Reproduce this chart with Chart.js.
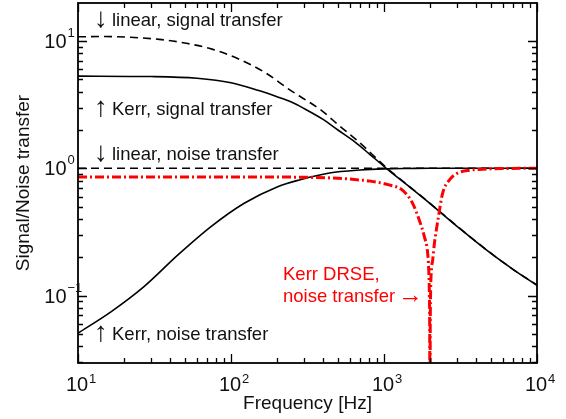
<!DOCTYPE html>
<html lang="en">
<head>
    <meta charset="UTF-8">
    <title>Signal/Noise transfer</title>
    <script src="https://cdn.jsdelivr.net/npm/chart.js"></script>
    <style>
        html, body {
            margin: 0;
            padding: 0;
            background-color: #ffffff;
        }

        .chart-container {
            position: relative;
            width: 566px;
            height: 419px;
        }
    </style>
</head>
<body>
    <div class="chart-container">
        <canvas id="transfer-chart" width="566" height="419"></canvas>
    </div>

    <script>
        // Values (frequency in Hz, transfer magnitude)
        const linearSignalFreq = [10, 15, 22, 34, 51, 76, 113, 169, 241, 280, 390, 512, 658, 1050, 1465, 2000, 3100, 5000, 7000, 10000];
        const linearSignal = [10.8, 10.85, 10.7, 10.3, 9.6, 8.6, 7.2, 5.6, 4.15, 3.7, 2.85, 2.15, 1.68, 1.0, 0.72, 0.53, 0.34, 0.215, 0.16, 0.121];

        const kerrSignalFreq = [10, 30, 60, 100, 150, 200, 250, 300, 400, 500, 650, 800, 1050, 1465, 2000, 3100, 5000, 7000, 10000];
        const kerrSignal = [5.3, 5.26, 5.1, 4.7, 4.1, 3.65, 3.3, 2.95, 2.42, 2.0, 1.6, 1.3, 0.985, 0.715, 0.528, 0.339, 0.214, 0.16, 0.12];

        const linearNoiseFreq = [10, 100, 1000, 10000];
        const linearNoise = [1.0, 1.0, 1.0, 1.0];

        const kerrNoiseFreq = [10, 16.5, 27, 45, 74, 122, 202, 280, 440, 700, 1000, 1500, 2000, 5000, 10000];
        const kerrNoise = [0.0506, 0.0748, 0.1175, 0.2085, 0.348, 0.531, 0.717, 0.81, 0.918, 0.97, 0.99, 0.997, 1.0, 1.0, 1.0];

        const drseFreq = [10, 100, 300, 500, 690, 800, 1080, 1325, 1538, 1702, 1836, 1929, 1960, 1980, 1990, 1997, 2005, 2015, 2035, 2080, 2138, 2250, 2416, 2680, 3016, 3500, 4200, 6000, 10000];
        const drseNoise = [0.855, 0.855, 0.85, 0.835, 0.81, 0.795, 0.74, 0.67, 0.53, 0.39, 0.29, 0.215, 0.16, 0.1, 0.05, 0.005, 0.05, 0.1, 0.15, 0.19, 0.26, 0.39, 0.636, 0.81, 0.913, 0.96, 0.98, 0.995, 1.0];

        // Axis ticks
        const xMajorTicks = [10, 100, 1000, 10000];
        const xTickExponents = ['1', '2', '3', '4'];
        const yMajorTicks = [0.1, 1, 10];
        const yTickExponents = ['\u22121', '0', '1'];
        const minorFactors = [2, 3, 4, 5, 6, 7, 8, 9];

        // Curve labels; arrows are drawn in a larger size like the reference
        const annotations = [
            { arrow: '\u2193', text: 'linear, signal transfer', y: 26, color: '#111111' },
            { arrow: '\u2191', text: 'Kerr, signal transfer', y: 115, color: '#111111' },
            { arrow: '\u2193', text: 'linear, noise transfer', y: 160, color: '#111111' },
            { arrow: '\u2191', text: 'Kerr, noise transfer', y: 340, color: '#111111' }
        ];
        const drseLabel = ['Kerr DRSE,', 'noise transfer'];

        const FONT = '"Liberation Sans", Arial, Helvetica, sans-serif';

        function toPoints(xs, ys) {
            return xs.map((x, i) => ({ x: x, y: ys[i] }));
        }

        function lineSet(label, xs, ys, color, width, dash) {
            return {
                label: label,
                data: toPoints(xs, ys),
                borderColor: color,
                borderWidth: width,
                borderDash: dash,
                pointRadius: 0,
                fill: false,
                cubicInterpolationMode: 'monotone'
            };
        }

        // Frame, inward ticks, tick labels, axis titles and annotations
        const framePlugin = {
            id: 'framePlugin',
            afterDraw(chart) {
                const ctx = chart.ctx;
                const area = chart.chartArea;
                const xs = chart.scales.x;
                const ys = chart.scales.y;

                ctx.save();
                ctx.strokeStyle = '#000000';

                // tick marks on all four sides
                ctx.lineWidth = 1.3;
                const xTick = (v, len) => {
                    const px = Math.round(xs.getPixelForValue(v)) + 0.5;
                    ctx.beginPath();
                    ctx.moveTo(px, area.bottom);
                    ctx.lineTo(px, area.bottom - len);
                    ctx.moveTo(px, area.top);
                    ctx.lineTo(px, area.top + len);
                    ctx.stroke();
                };
                const yTick = (v, len) => {
                    const py = Math.round(ys.getPixelForValue(v)) + 0.5;
                    ctx.beginPath();
                    ctx.moveTo(area.left, py);
                    ctx.lineTo(area.left + len, py);
                    ctx.moveTo(area.right, py);
                    ctx.lineTo(area.right - len, py);
                    ctx.stroke();
                };
                xMajorTicks.forEach((d, i) => {
                    xTick(d, 9);
                    if (i < xMajorTicks.length - 1) {
                        minorFactors.forEach(f => xTick(d * f, 5));
                    }
                });
                [0.01, 0.1, 1, 10].forEach(d => {
                    minorFactors.forEach(f => {
                        const v = d * f;
                        if (v > ys.min && v < ys.max) yTick(v, 5);
                    });
                });
                yMajorTicks.forEach(v => yTick(v, 9));

                // frame
                ctx.lineWidth = 1.8;
                ctx.strokeRect(area.left, area.top, area.right - area.left, area.bottom - area.top);

                // tick labels
                ctx.fillStyle = '#111111';
                ctx.textBaseline = 'alphabetic';
                xMajorTicks.forEach((v, i) => {
                    const px = xs.getPixelForValue(v);
                    ctx.font = '20px ' + FONT;
                    const w = ctx.measureText('10').width;
                    ctx.textAlign = 'left';
                    ctx.fillText('10', px - w / 2 - 1, area.bottom + 28);
                    ctx.font = '13px ' + FONT;
                    ctx.fillText(xTickExponents[i], px + w / 2, area.bottom + 20);
                });
                yMajorTicks.forEach((v, i) => {
                    const py = ys.getPixelForValue(v);
                    ctx.font = '20px ' + FONT;
                    ctx.textAlign = 'right';
                    ctx.fillText('10', 66.5, py + 7);
                    ctx.font = '13px ' + FONT;
                    ctx.textAlign = 'left';
                    ctx.fillText(yTickExponents[i], 67.5, py - 4);
                });

                // axis titles
                ctx.font = '19px ' + FONT;
                ctx.textAlign = 'center';
                ctx.fillText('Frequency [Hz]', (area.left + area.right) / 2, 409);
                ctx.save();
                ctx.translate(29, (area.top + area.bottom) / 2);
                ctx.rotate(-Math.PI / 2);
                ctx.fillText('Signal/Noise transfer', 0, 0);
                ctx.restore();

                // curve annotations
                ctx.textAlign = 'left';
                annotations.forEach(a => {
                    ctx.fillStyle = a.color;
                    ctx.font = '28px ' + FONT;
                    ctx.fillText(a.arrow, 94, a.y + 1);
                    ctx.font = '18.5px ' + FONT;
                    ctx.fillText(a.text, 112, a.y);
                });
                ctx.fillStyle = '#ff0000';
                ctx.font = '18.5px ' + FONT;
                ctx.fillText(drseLabel[0], 283, 280);
                ctx.fillText(drseLabel[1], 283, 302);
                const tw = ctx.measureText(drseLabel[1]).width;
                ctx.font = '25px ' + FONT;
                ctx.fillText('\u2192', 283 + tw + 3, 303);

                ctx.restore();
            }
        };

        const ctxTransfer = document.getElementById('transfer-chart').getContext('2d');
        const transferChart = new Chart(ctxTransfer, {
            type: 'line',
            data: {
                datasets: [
                    lineSet('Kerr DRSE, noise transfer', drseFreq, drseNoise, '#ff0000', 3, [9, 3, 2, 3]),
                    lineSet('linear, signal transfer', linearSignalFreq, linearSignal, '#000000', 1.6, [8, 5]),
                    lineSet('Kerr, signal transfer', kerrSignalFreq, kerrSignal, '#000000', 1.6, []),
                    lineSet('linear, noise transfer', linearNoiseFreq, linearNoise, '#000000', 1.6, [8, 5]),
                    lineSet('Kerr, noise transfer', kerrNoiseFreq, kerrNoise, '#000000', 1.6, [])
                ]
            },
            options: {
                responsive: false,
                devicePixelRatio: 1,
                animation: false,
                layout: {
                    padding: { left: 78, right: 29, top: 3, bottom: 56 }
                },
                scales: {
                    x: { type: 'logarithmic', min: 10, max: 10000, display: false },
                    y: { type: 'logarithmic', min: 0.0295, max: 19.9, display: false }
                },
                plugins: {
                    legend: { display: false },
                    tooltip: { enabled: false }
                }
            },
            plugins: [framePlugin]
        });
    </script>
</body>
</html>
